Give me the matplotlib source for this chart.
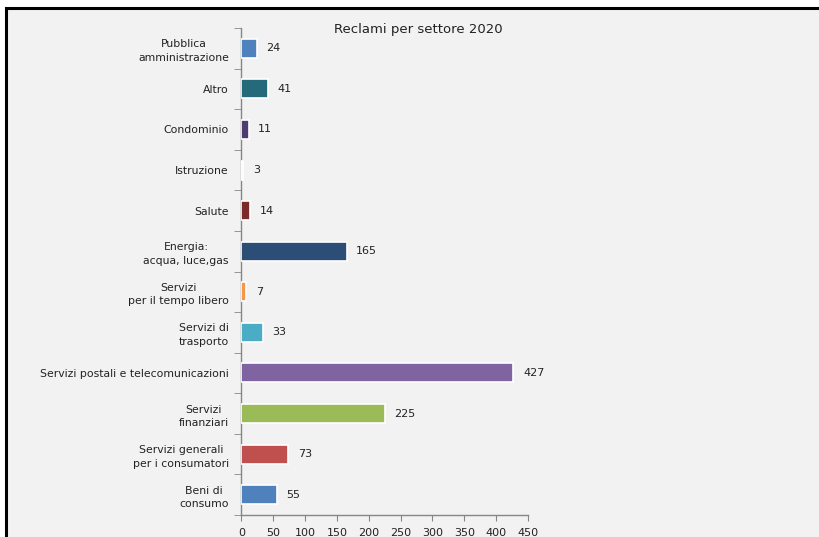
import matplotlib
matplotlib.use("Agg")
import matplotlib.pyplot as plt
from matplotlib.patches import Rectangle
from matplotlib.ticker import FixedLocator

categories = [
    "Pubblica\namministrazione",
    "Altro",
    "Condominio",
    "Istruzione",
    "Salute",
    "Energia:\nacqua, luce,gas",
    "Servizi\nper il tempo libero",
    "Servizi di\ntrasporto",
    "Servizi postali e telecomunicazioni",
    "Servizi\nfinanziari",
    "Servizi generali\nper i consumatori",
    "Beni di\nconsumo",
]
values = [24, 41, 11, 3, 14, 165, 7, 33, 427, 225, 73, 55]
colors = ["#4f81bd", "#246a7a", "#4f3d72", "#e6eef8", "#7a2b2a", "#2b4d76",
          "#f79646", "#4bacc6", "#8064a2", "#9bbb59", "#c0504d", "#4f81bd"]
xticks = [0, 50, 100, 150, 200, 250, 300, 350, 400, 450]
title = "Reclami per settore 2020"

fig = plt.figure(figsize=(8.2, 5.37), dpi=100)
fig.patch.set_facecolor("white")
bg = Rectangle((6 / 820, -0.1), 1.2, 1 - 8 / 537 + 0.1, transform=fig.transFigure,
               facecolor="#f2f2f2", edgecolor="black", linewidth=2.2, zorder=-10)
fig.patches.append(bg)

ax = fig.add_axes([241.5 / 820, 1 - 515 / 537, 286.5 / 820, (515 - 28) / 537])
ax.set_zorder(5)
ax.set_facecolor("none")
pos = list(range(len(categories)))
ax.barh(pos, values, height=0.47, color=colors, edgecolor="white", linewidth=1.2, zorder=3)
ax.set_ylim(len(categories) - 0.5, -0.5)
ax.set_xlim(0, 450)

for p, v in zip(pos, values):
    ax.annotate(str(v), (v, p), xytext=(7, 0), textcoords="offset points",
                va="center", ha="left", fontsize=8, color="#222222")

ax.set_yticks(pos)
ax.set_yticklabels(categories, fontsize=7.8, color="#222222", multialignment="center",
                   linespacing=1.45)
ax.tick_params(axis="y", which="major", length=0, pad=9)
ax.yaxis.set_minor_locator(FixedLocator([i - 0.5 for i in range(len(categories) + 1)]))
ax.tick_params(axis="y", which="minor", length=5, color="#868686", direction="out")

ax.set_xticks(xticks)
ax.set_xticklabels([str(t) for t in xticks], fontsize=8, color="#222222")
ax.tick_params(axis="x", length=4, color="#868686", direction="out", pad=5)

for s in ["top", "right"]:
    ax.spines[s].set_visible(False)
for s in ["left", "bottom"]:
    ax.spines[s].set_color("#868686")
    ax.spines[s].set_linewidth(1)

fig.text(418 / 820, 1 - 30 / 537, title, ha="center", va="center", fontsize=9.5, color="#222222")

fig.savefig("out.png", dpi=100, facecolor=fig.get_facecolor())
